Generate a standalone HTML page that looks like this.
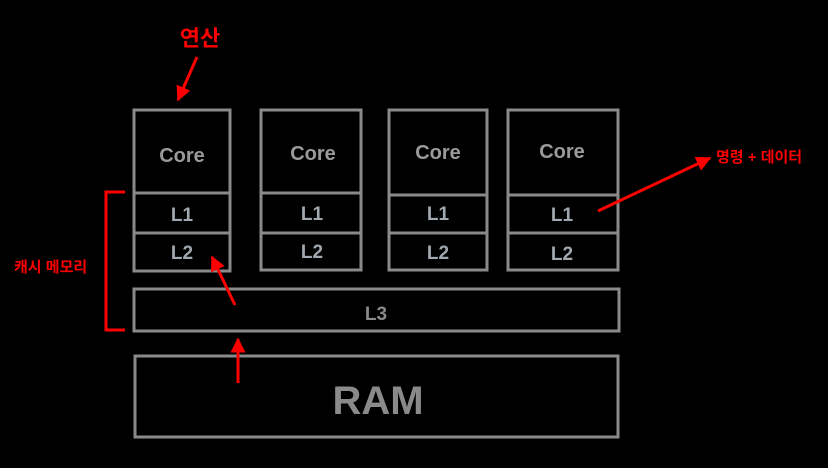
<!DOCTYPE html>
<html><head><meta charset="utf-8"><style>
html,body{margin:0;padding:0;background:#000;width:828px;height:468px;overflow:hidden}
text{font-family:"Liberation Sans","Noto Sans CJK KR",sans-serif;font-weight:bold}
</style></head><body>
<svg width="828" height="468" viewBox="0 0 828 468" xmlns="http://www.w3.org/2000/svg">
<defs>
<marker id="ah" viewBox="0 0 10 10" refX="9" refY="5" markerWidth="5" markerHeight="5" orient="auto" markerUnits="strokeWidth">
<path d="M0,0 L10,5 L0,10 z" fill="#ff0000"/></marker>
</defs>
<g fill="none" stroke="#8a8a8a" stroke-width="3">
<rect x="134" y="110" width="96" height="161"/>
<line x1="134" y1="193" x2="230" y2="193"/><line x1="134" y1="233" x2="230" y2="233"/>
<rect x="261" y="110" width="100" height="160"/>
<line x1="261" y1="193" x2="361" y2="193"/><line x1="261" y1="233" x2="361" y2="233"/>
<rect x="389" y="110" width="98" height="160"/>
<line x1="389" y1="195" x2="487" y2="195"/><line x1="389" y1="233" x2="487" y2="233"/>
<rect x="508" y="110" width="110" height="160"/>
<line x1="508" y1="195" x2="618" y2="195"/><line x1="508" y1="233" x2="618" y2="233"/>
<rect x="134" y="289" width="485" height="42"/>
<rect x="135" y="356" width="483" height="81"/>
</g>
<g fill="#9a9a9a" font-size="20" text-anchor="middle">
<text x="182" y="162">Core</text><text x="313" y="160">Core</text>
<text x="438" y="159">Core</text><text x="562" y="158">Core</text>
</g>
<g fill="#a2a8b0" font-size="19" text-anchor="middle">
<text x="182" y="221">L1</text><text x="182" y="259">L2</text>
<text x="312" y="220">L1</text><text x="312" y="258">L2</text>
<text x="438" y="220">L1</text><text x="438" y="259">L2</text>
<text x="562" y="221">L1</text><text x="562" y="260">L2</text>
</g>
<text x="376" y="320" fill="#8a8a8a" font-size="19" text-anchor="middle">L3</text>
<text x="378" y="414" fill="#8a8a8a" font-size="40" text-anchor="middle">RAM</text>
<g stroke="#ff0000" stroke-width="3" fill="none">
<line x1="197" y1="57" x2="178" y2="100" marker-end="url(#ah)"/>
<line x1="235" y1="305" x2="212" y2="257" marker-end="url(#ah)"/>
<line x1="238" y1="383" x2="238" y2="339" marker-end="url(#ah)"/>
<line x1="598" y1="211" x2="710" y2="158" marker-end="url(#ah)"/>
<polyline points="125,192 106,192 106,330 125,330"/>
</g>
<text x="200" y="46" fill="#ff0000" font-size="22" text-anchor="middle">연산</text>
<text x="14" y="272" fill="#ff0000" font-size="15" font-weight="normal">캐시 메모리</text>
<text x="716" y="162" fill="#ff0000" font-size="15" font-weight="normal">명령 + 데이터</text>
</svg>
</body></html>
